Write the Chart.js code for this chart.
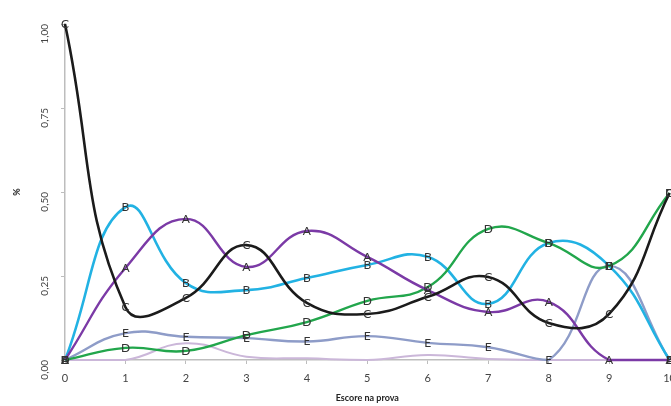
<!DOCTYPE html>
<html>
<head>
<meta charset="utf-8">
<script src="https://cdn.jsdelivr.net/npm/chart.js@4.4.1/dist/chart.umd.min.js"></script>
<style>
  html, body { margin: 0; padding: 0; background: #fff; overflow: hidden; }
  #chart { display: block; }
</style>
</head>
<body>
<canvas id="chart" width="684" height="406"></canvas>
<script>
// Score on the test (x axis)
const scores = ['0', '1', '2', '3', '4', '5', '6', '7', '8', '9', '10'];

// Share of answers for each alternative, per score
const altA = [0, 0.274, 0.42, 0.277, 0.384, 0.307, 0.208, 0.143, 0.173, 0, 0];
const altB = [0, 0.455, 0.229, 0.208, 0.244, 0.283, 0.307, 0.167, 0.348, 0.28, 0];
const altC = [1.0, 0.157, 0.185, 0.342, 0.17, 0.137, 0.188, 0.247, 0.11, 0.137, 0.497];
const altD = [0, 0.036, 0.027, 0.074, 0.113, 0.176, 0.217, 0.39, 0.348, 0.28, 0.497];
const altE = [0, 0.08, 0.069, 0.065, 0.055, 0.071, 0.051, 0.038, 0, 0.28, 0];
const blank = [0, 0, 0.05, 0.01, 0.005, 0, 0.015, 0.003, 0, 0, 0];

// Y axis ticks
const yTicks = [0, 0.25, 0.5, 0.75, 1.0];

const fontFamily = 'Lato, "Open Sans", sans-serif';

// Writes the alternative letter on top of every point of its line
const letterPlugin = {
  id: 'letters',
  afterDatasetsDraw(chart) {
    const ctx = chart.ctx;
    ctx.save();
    ctx.font = '12px ' + fontFamily;
    ctx.fillStyle = '#333';
    ctx.textAlign = 'center';
    ctx.textBaseline = 'middle';
    chart.data.datasets.forEach((ds, i) => {
      if (!ds.letter) return;
      chart.getDatasetMeta(i).data.forEach(pt => {
        ctx.fillText(ds.letter, pt.x, pt.y);
      });
    });
    ctx.restore();
  }
};

function series(label, letter, data, color, width) {
  return {
    label, letter, data,
    borderColor: color,
    backgroundColor: color,
    borderWidth: width,
    pointRadius: 0,
    tension: 0.45,
    fill: false,
    clip: 6
  };
}

new Chart(document.getElementById('chart'), {
  type: 'line',
  data: {
    labels: scores,
    datasets: [
      series('C', 'C', altC, '#1b1b1b', 2.6),
      series('A', 'A', altA, '#7b3aa6', 2.4),
      series('D', 'D', altD, '#22a64c', 2.4),
      series('B', 'B', altB, '#22b2e3', 2.6),
      series('E', 'E', altE, '#8e9cc8', 2.4),
      series('', '', blank, '#cbb7d9', 2.0)
    ]
  },
  options: {
    responsive: false,
    animation: false,
    devicePixelRatio: 1,
    layout: { padding: { top: 24, left: 0, right: 0, bottom: 0 } },
    plugins: { legend: { display: false }, tooltip: { enabled: false } },
    scales: {
      x: {
        offset: false,
        grid: { drawOnChartArea: false, drawTicks: true, tickLength: 4, color: '#bdbdbd' },
        border: { color: '#bdbdbd', width: 1.5 },
        ticks: { color: '#444', font: { size: 11, family: fontFamily }, padding: 8, maxRotation: 0 },
        title: { display: true, text: 'Escore na prova', color: '#222', font: { size: 9, weight: 'bold', family: fontFamily }, padding: { top: 4, bottom: 3 } },
        afterFit(s) { s.height = 46; }
      },
      y: {
        min: 0, max: 1,
        afterBuildTicks(s) { s.ticks = yTicks.map(v => ({ value: v })); },
        grid: { drawOnChartArea: false, drawTicks: true, tickLength: 4, color: '#bdbdbd' },
        border: { color: '#bdbdbd', width: 1.5 },
        ticks: {
          color: '#444', font: { size: 10, family: fontFamily }, padding: 16,
          minRotation: 90, maxRotation: 90,
          callback: v => v.toFixed(2).replace('.', ',')
        },
        title: { display: true, text: '%', color: '#222', font: { size: 9, weight: 'bold', family: fontFamily }, padding: { top: 12, bottom: 0 } },
        afterFit(s) { s.width = 65; }
      }
    }
  },
  plugins: [letterPlugin]
});
</script>
</body>
</html>
